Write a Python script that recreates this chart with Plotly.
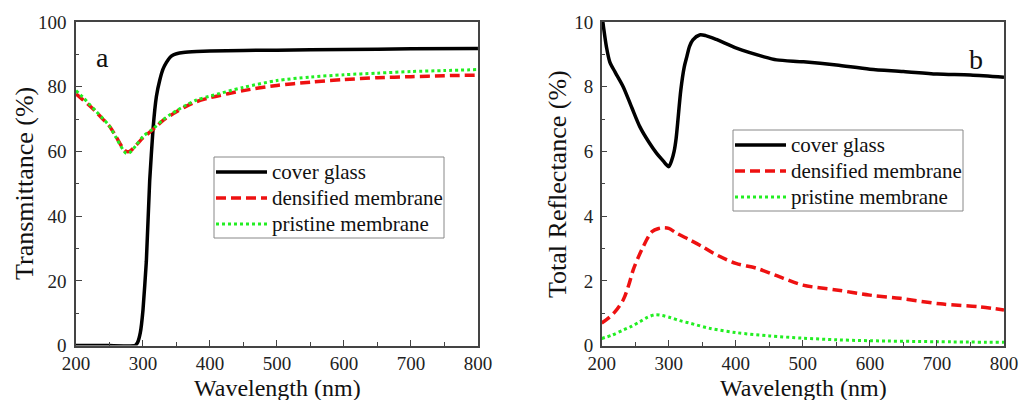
import plotly.graph_objects as go

# ---------- data ----------
# Panel a: Transmittance (%)
wl_T_glass = [200, 250, 288, 292, 296, 300, 305, 310, 315, 320, 325, 330, 335, 340, 345, 350,
              360, 380, 400, 450, 500, 600, 700, 800]
T_glass = [0, 0, 0, 1, 4, 11, 26, 51, 67, 77, 82, 85.5, 87.5, 89, 89.8, 90.2,
           90.6, 90.9, 91.0, 91.2, 91.3, 91.5, 91.7, 91.8]

wl_T_mem = [200, 210, 220, 230, 240, 250, 260, 270, 275, 280, 290, 300, 315, 330, 340, 350,
            365, 380, 400, 450, 500, 550, 600, 650, 700, 750, 800]
T_densified = [77.8, 76.0, 74.2, 72.2, 70.0, 67.8, 64.5, 61.0, 60.0, 60.0, 62.0, 64.2, 66.8,
               69.6, 71.0, 72.3, 74.0, 75.4, 76.6, 78.8, 80.4, 81.4, 82.2, 82.8, 83.1, 83.4, 83.6]
T_pristine = [78.8, 76.8, 74.6, 72.4, 70.2, 67.8, 64.2, 60.6, 59.4, 59.6, 62.0, 64.6, 67.0,
              69.8, 71.3, 72.6, 74.4, 75.9, 77.1, 79.8, 81.9, 83.0, 83.7, 84.2, 84.7, 85.0, 85.3]

# Panel b: Total Reflectance (%)
wl_R_glass = [200, 203, 207, 212, 220, 232, 245, 257, 270, 282, 292, 297, 300, 304, 308, 311,
              318, 323, 327, 331, 336, 346, 355, 371, 401, 441, 461, 501, 550, 600, 650, 700,
              750, 800]
R_glass = [10.3, 9.8, 9.24, 8.77, 8.45, 8.0, 7.35, 6.76, 6.3, 5.94, 5.7, 5.58, 5.53, 5.7, 6.0,
           6.4, 7.9, 8.6, 8.93, 9.25, 9.45, 9.6, 9.58, 9.46, 9.19, 8.93, 8.83, 8.77, 8.67,
           8.54, 8.47, 8.39, 8.36, 8.29]

wl_R_dens = [200, 210, 220, 232, 240, 247, 255, 262, 270, 275, 285, 292, 300, 312, 332, 350,
             367, 400, 431, 471, 500, 550, 600, 645, 705, 764, 800]
R_densified = [0.70, 0.85, 1.05, 1.41, 1.85, 2.34, 2.75, 3.06, 3.38, 3.52, 3.62, 3.64, 3.62,
               3.47, 3.26, 3.06, 2.85, 2.54, 2.39, 2.08, 1.87, 1.72, 1.56, 1.46, 1.29, 1.20, 1.10]

wl_R_pris = [200, 215, 232, 245, 257, 268, 279, 290, 302, 315, 332, 362, 401, 450, 500, 550,
             600, 700, 800]
R_pristine = [0.22, 0.32, 0.48, 0.60, 0.74, 0.87, 0.95, 0.93, 0.87, 0.78, 0.69, 0.53, 0.40,
              0.30, 0.23, 0.18, 0.15, 0.12, 0.10]

names = ["cover glass", "densified membrane", "pristine membrane"]
x_ticks = [200, 300, 400, 500, 600, 700, 800]
x_title = "Wavelength (nm)"
y_titles = ["Transmittance (%)", "Total Reflectance (%)"]
panel_labels = ["a", "b"]

# ---------- styling ----------
W, H = 1020, 400
FONT = "Liberation Serif"
BLACK = "#000000"
RED = "#ee1111"
GREEN = "#22ee22"
FRAME = "#444444"
TXT = "#111111"

styles = [  # color, dash, width
    (BLACK, "solid", 3.5),
    (RED, "10px,5px", 3.5),
    (GREEN, "3px,3px", 3),
]

fig = go.Figure()

def add(x, y, idx, xa, ya, smoothing):
    color, dash, width = styles[idx]
    fig.add_trace(go.Scatter(
        x=x, y=y, name=names[idx], mode="lines",
        line=dict(color=color, width=width, dash=dash, shape="spline", smoothing=smoothing),
        xaxis=xa, yaxis=ya, showlegend=False))

add(wl_T_glass, T_glass, 0, "x", "y", 0.3)
add(wl_T_mem, T_densified, 1, "x", "y", 0.8)
add(wl_T_mem, T_pristine, 2, "x", "y", 0.8)
add(wl_R_glass, R_glass, 0, "x2", "y2", 0.8)
add(wl_R_dens, R_densified, 1, "x2", "y2", 0.9)
add(wl_R_pris, R_pristine, 2, "x2", "y2", 0.9)

axis_common = dict(
    showline=True, linecolor=FRAME, linewidth=1.5, mirror=True,
    ticks="inside", ticklen=6, tickwidth=1, tickcolor=FRAME,
    showgrid=False, zeroline=False, automargin=False,
    tickfont=dict(family=FONT, size=19, color="#222222"),
)
minor_common = dict(ticks="inside", ticklen=3.5, tickcolor=FRAME)

def px(x):
    return x / W

def py(y):
    return 1 - y / H

shapes = []
annotations = []

# ---- legends placed where the reference has them ----
legend_boxes = [  # (left, top, right, bottom) in px
    (214, 157, 444, 238),
    (733, 130, 963, 211),
]
for (l, t, r, b) in legend_boxes:
    shapes.append(dict(type="rect", xref="paper", yref="paper",
                       x0=px(l), x1=px(r), y0=py(b), y1=py(t),
                       line=dict(color="#888888", width=1), fillcolor="white", layer="above"))
    for i, name in enumerate(names):
        color, dash, width = styles[i]
        yc = t + 15 + 26 * i
        shapes.append(dict(type="line", xref="paper", yref="paper",
                           x0=px(l + 2), x1=px(l + 53), y0=py(yc), y1=py(yc),
                           line=dict(color=color, width=width, dash=dash), layer="above"))
        annotations.append(dict(text=name, x=px(l + 56), y=py(yc), xref="paper", yref="paper",
                                xanchor="left", yanchor="middle", showarrow=False,
                                font=dict(family=FONT, size=21, color=TXT)))

# ---- axis titles and panel labels ----
for xc in (277, 803):
    annotations.append(dict(text=x_title, x=px(xc), y=py(373), xref="paper", yref="paper",
                            xanchor="center", yanchor="top", showarrow=False,
                            font=dict(family=FONT, size=24, color=TXT)))
for xc, txt in zip((24, 557), y_titles):
    annotations.append(dict(text=txt, x=px(xc), y=py(184), xref="paper", yref="paper",
                            xanchor="center", yanchor="middle", textangle=-90, showarrow=False,
                            font=dict(family=FONT, size=26, color=TXT)))
for (xc, yc), txt in zip(((94, 40), (985, 42)), panel_labels):
    annotations.append(dict(text=txt, x=px(xc), y=py(yc), xref="paper", yref="paper",
                            showarrow=False, font=dict(family=FONT, size=28, color=TXT)))

fig.update_layout(
    width=W, height=H, autosize=False,
    margin=dict(l=0, r=0, t=0, b=0),
    paper_bgcolor="white", plot_bgcolor="white",
    font=dict(family=FONT),
    showlegend=False,
    xaxis=dict(domain=[0.0745, 0.4686], range=[200, 800], tickvals=x_ticks,
               minor=dict(dtick=50, **minor_common), anchor="y",
               ticklabelstandoff=0, **axis_common),
    yaxis=dict(domain=[0.136, 0.945], range=[0, 100], dtick=20,
               minor=dict(dtick=10, **minor_common), anchor="x",
               ticklabelstandoff=4, **axis_common),
    xaxis2=dict(domain=[0.5899, 0.9843], range=[200, 800], tickvals=x_ticks,
                minor=dict(dtick=50, **minor_common), anchor="y2",
                ticklabelstandoff=0, **axis_common),
    yaxis2=dict(domain=[0.136, 0.945], range=[0, 10], dtick=2,
                minor=dict(dtick=1, **minor_common), anchor="x2",
                ticklabelstandoff=3, **axis_common),
    shapes=shapes,
    annotations=annotations,
)

fig.write_html("out.html")
